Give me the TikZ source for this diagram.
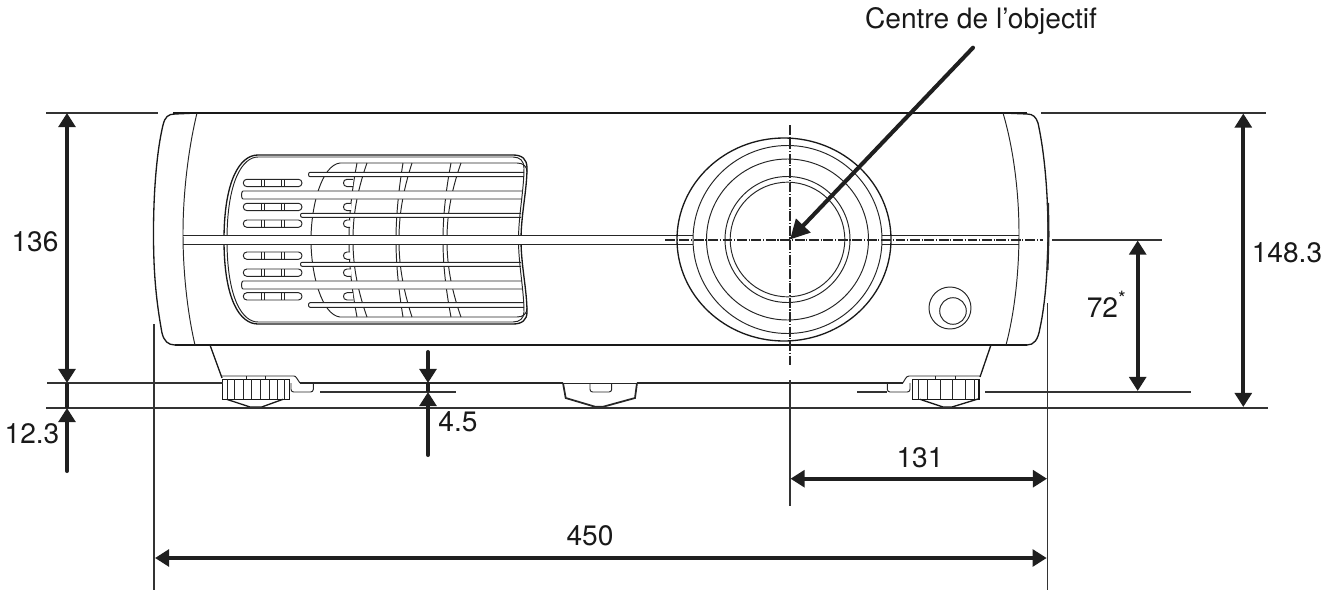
\documentclass[tikz,border=0pt]{standalone}
\usepackage{fontspec}
\setmainfont{TeX Gyre Heros}
\usetikzlibrary{arrows.meta}

\tikzset{
  thinline/.style={line width=0.55pt, black!85},
  bodyline/.style={line width=0.75pt, black!90},
  extline/.style={line width=0.6pt, black!80},
  centerline/.style={line width=0.6pt, black!85, dash pattern=on 5.6pt off 1pt on 0.6pt off 1pt},
  dimshaft/.style={line width=2.3pt, black!88},
  dimarrow/.style={dimshaft, -{Triangle[length=8pt,width=9.5pt]}},
  dimboth/.style={dimshaft, {Triangle[length=8pt,width=9.5pt]}-{Triangle[length=8pt,width=9.5pt]}},
  dimtext/.style={font=\fontsize{16}{18}\selectfont, anchor=base, inner sep=0pt, text=black!90}
}

\begin{document}
\begin{tikzpicture}[x=0.02cm, y=-0.02cm]
  \useasboundingbox (0,0) rectangle (1323,592);

  % Enveloppe du projecteur
  \draw[bodyline] (173,113) -- (1027,113);
  \draw[bodyline] (175,345) -- (1027,345);
  \draw[bodyline] (175,345) .. controls (168,345) and (164,341) .. (162,333)
    .. controls (155,295) and (153.5,265) .. (153.5,233)
    .. controls (153.5,190) and (157,150) .. (163,125)
    .. controls (165,117) and (168,114) .. (175,114) -- (197,113);
  \draw[thinline] (197,113) .. controls (188,150) and (183,195) .. (183,233)
    .. controls (183,275) and (188,315) .. (195,345);
  \draw[bodyline] (1003,113) -- (1027,114) .. controls (1033,114) and (1036,117) .. (1038,123)
    .. controls (1044,150) and (1048,190) .. (1048,233)
    .. controls (1048,270) and (1045,305) .. (1040,328)
    .. controls (1038,340) and (1034,345) .. (1027,345) -- (1006,345);
  \draw[thinline] (1003,113) .. controls (1014,150) and (1019,195) .. (1019,233)
    .. controls (1019,275) and (1014,315) .. (1006,345);
  \draw[line width=1.2pt, black!85] (1048,203) -- (1048.5,235) -- (1047.5,270);

  % Cylindre et nervures de la grille
  \draw[thinline] (527,172) .. controls (527,166) and (523,163) .. (517,163) -- (340,163)
    .. controls (322,165) and (311,205) .. (311,240)
    .. controls (311,275) and (322,315) .. (340,317) -- (517,317)
    .. controls (523,317) and (527,314) .. (527,308);
  \foreach \xa/\xb in {357/349,367/353,403/396,412/399,451/443,461/447}
    \draw[thinline] (\xa,163) .. controls (\xb+1,200) and (\xb,225) .. (\xb,240)
      .. controls (\xb,255) and (\xb+1,280) .. (\xa,317);

  % Fentes
  \foreach \ya in {179.3,203.3,220,252,269,292.7} {
    \draw[thinline, fill=white, rounded corners=2pt] (243.3,\ya) rectangle (302,\ya+7.3);
    \foreach \xa in {261.7,264.3,281,284.3}
      \draw[thinline] (\xa,\ya) -- (\xa,\ya+7.3);
  }
  \foreach \ya/\xb in {179.3/353,203.3/351,220/350,252/350,269/351,292.7/353}
    \draw[thinline, fill=white] (\xb,\ya) -- (347,\ya)
      .. controls (342.3,\ya) and (342.3,\ya+7.3) .. (347,\ya+7.3) -- (\xb,\ya+7.3);

  % Ailettes
  \foreach \xa/\xb/\ya/\yb in {308/524/172.3/176.7, 241/522/191/199, 300/521/213.3/217.3,
                               300/521/262.3/266.3, 241/522/281/289, 308/524/302.7/307.3}
    \draw[thinline, fill=white] (\xb,\ya) -- (\xa+2,\ya)
      .. controls (\xa,\ya) and (\xa,\yb) .. (\xa+2,\yb) -- (\xb,\yb);

  % Contour de la grille
  \draw[bodyline] (258,155) -- (513,155) .. controls (522,155) and (527,159) .. (527,168)
    .. controls (527,190) and (521,215) .. (521,240)
    .. controls (521,265) and (527,290) .. (527,312)
    .. controls (527,320) and (522,324) .. (513,324) -- (258,324)
    .. controls (240,324) and (224,300) .. (224,240)
    .. controls (224,180) and (240,155) .. (258,155) -- cycle;
  \draw[thinline] (258,157) -- (513,157) .. controls (520,157) and (524,161) .. (524,168)
    .. controls (524,190) and (518.5,215) .. (518.5,240)
    .. controls (518.5,265) and (524,290) .. (524,312)
    .. controls (524,318) and (520,322) .. (513,322) -- (258,322)
    .. controls (243,322) and (227,300) .. (227,240)
    .. controls (227,180) and (243,157) .. (258,157) -- cycle;

  % Bandeau
  \fill[white] (183.5,235) rectangle (676,244);
  \draw[thinline] (183,235) -- (693,235);
  \draw[thinline] (183,244) -- (693,244);
  \draw[thinline] (882,235) -- (1019,235);
  \draw[thinline] (882,244) -- (1019,244);

  % Objectif
  \draw[bodyline] (784,239.5) ellipse [x radius=107, y radius=101.5];
  \draw[thinline] (787.5,239.5) ellipse [x radius=94.5, y radius=94];
  \draw[thinline] (787.5,239.5) ellipse [x radius=81, y radius=80.5];
  \draw[thinline] (787.5,239.5) ellipse [x radius=62.5, y radius=63];
  \draw[thinline] (787.5,239.5) ellipse [x radius=57.3, y radius=57.3];

  % Capteur
  \draw[thinline] (950,308) circle [radius=21];
  \draw[thinline] (953,311) circle [radius=13.3];

  % Pied gauche
  \draw[bodyline] (210,345) -- (222,378);
  \draw[bodyline] (222.7,379.3) rectangle (289.3,399.3);
  \foreach \xa in {227.3,234.7,243.3,251.7,260.3,269,277.7,284.3}
    \draw[thinline] (\xa,379.3) -- (\xa,399.3);
  \draw[thinline] (222,376) -- (294,376) .. controls (296,376) and (297,379) .. (300,383);
  \draw[thinline] (246,376) -- (246,379.3);
  \draw[thinline] (265.7,376) -- (265.7,379.3);
  \draw[bodyline] (226.7,399.3) -- (250,407) -- (261.7,407) -- (283,399.3);
  \draw[thinline, rounded corners=1.5pt] (291,383) -- (291,392) -- (313.3,392) -- (313.3,383);

  % Pied central
  \draw[line width=1pt, black!85] (563,383) -- (565.7,398) -- (595,406.7) -- (603.3,406.7)
    -- (635,398) -- (637,383);
  \draw[thinline] (563,383) -- (637,383);
  \draw[thinline, rounded corners=1.5pt] (590,383) -- (590,392) -- (611.7,392) -- (611.7,383);

  % Pied droit
  \draw[bodyline] (990.7,345.7) -- (980,377);
  \draw[bodyline] (912.3,379.3) rectangle (979,399.3);
  \foreach \xa in {918.3,927.3,940,952.7,965,974}
    \draw[thinline] (\xa,379.3) -- (\xa,399.3);
  \draw[thinline] (980,376) -- (909,376) .. controls (906,376) and (905,380) .. (902.7,383);
  \draw[thinline] (935,376) -- (935,379.3);
  \draw[thinline] (955.7,376) -- (955.7,379.3);
  \draw[bodyline] (920,399.3) -- (943,407) -- (952,407) -- (978,399);
  \draw[thinline, rounded corners=1.5pt] (887.3,383) -- (887.3,392) -- (910,392) -- (910,383);

  % Lignes de cote
  \draw[extline] (46,113) -- (158,113);
  \draw[extline] (1041,113) -- (1266,113);
  \draw[extline] (47,383) -- (222.7,383);
  \draw[line width=0.9pt, black!85] (300,383) -- (563,383);
  \draw[line width=0.9pt, black!85] (637,383) -- (902.7,383);
  \draw[extline] (46,408) -- (1267.5,408);
  \draw[extline] (320,392) -- (456,392);
  \draw[extline] (857,392) -- (887.3,392);
  \draw[extline] (985,392) -- (1191,392);
  \draw[extline] (1052,240) -- (1162,240);
  \draw[extline] (154,324) -- (154,590);
  \draw[extline] (1047.7,303) -- (1047.7,590);
  \draw[extline] (790,380) -- (790,506);

  % Axes
  \draw[centerline] (665,240) -- (1043,240);
  \draw[centerline] (790,125) -- (790,367);

  % Flèches
  \coordinate (h136a) at (67,113);
  \coordinate (h136b) at (67,383);
  \coordinate (h123a) at (67,471);
  \coordinate (h123b) at (67,408);
  \coordinate (h45a) at (428,352);
  \coordinate (h45b) at (428,383);
  \coordinate (h45c) at (428,455);
  \coordinate (h45d) at (428,392);
  \coordinate (h148a) at (1243.3,113.5);
  \coordinate (h148b) at (1243.3,407);
  \coordinate (h72a) at (1137.7,240.5);
  \coordinate (h72b) at (1137.7,391);
  \coordinate (l131a) at (790.5,478.7);
  \coordinate (l131b) at (1047,478.7);
  \coordinate (l450a) at (155,558);
  \coordinate (l450b) at (1046.7,558);
  \coordinate (leadera) at (973,47.7);
  \coordinate (leaderb) at (790,239.5);

  \draw[dimshaft] (h136b) -- (h123b);
  \draw[dimshaft] (h45b) -- (h45d);
  \draw[dimboth] (h136a) -- (h136b);
  \draw[dimarrow, line cap=round] (h123a) -- (h123b);
  \draw[dimarrow, line cap=round] (h45a) -- (h45b);
  \draw[dimarrow, line cap=round] (h45c) -- (h45d);
  \draw[dimboth] (h148a) -- (h148b);
  \draw[dimboth] (h72a) -- (h72b);
  \draw[dimboth] (l131a) -- (l131b);
  \draw[dimboth] (l450a) -- (l450b);
  \draw[dimshaft, line cap=round, -{Triangle[length=11pt,width=11pt]}] (leadera) -- (leaderb);

  % Textes
  \node[dimtext] (t136) at (35,251.7) {136};
  \node[dimtext] (t123) at (32,443) {12.3};
  \node[dimtext] (t45) at (458,431) {4.5};
  \node[dimtext] (t148) at (1287,262.3) {148.3};
  \node[dimtext, anchor=base west] (t72) at (1086.5,317) {72\textsuperscript{*}};
  \node[dimtext] (t131) at (920,467) {131};
  \node[dimtext] (t450) at (590,545.7) {450};
  \node[dimtext] (tcentre) at (981,28.7) {Centre de l’objectif};
\end{tikzpicture}
\end{document}
